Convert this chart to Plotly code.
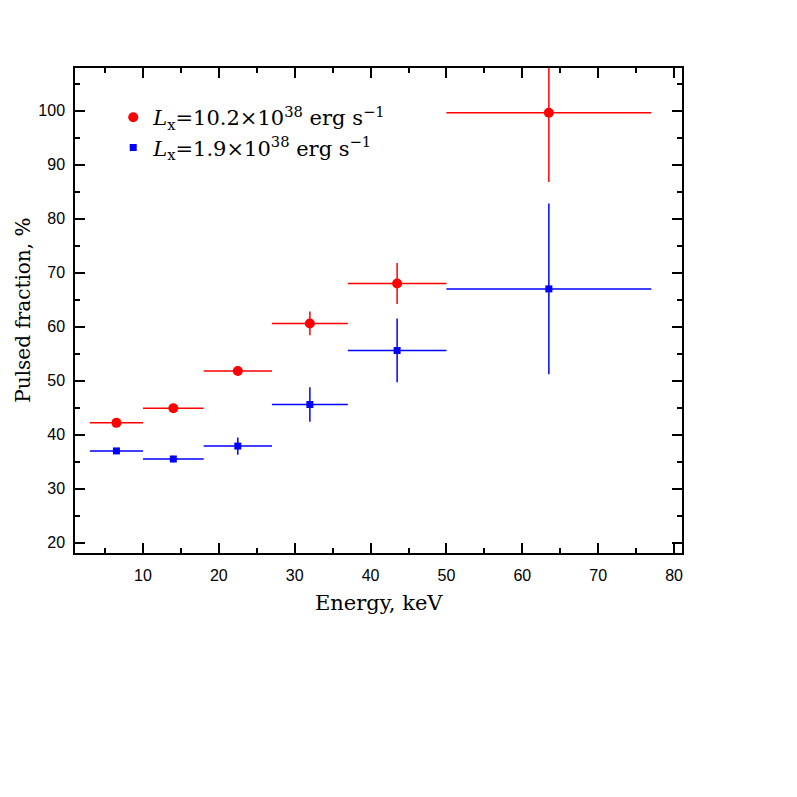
import plotly.graph_objects as go

# Energy bins (keV)
bin_lo = [3, 10, 18, 27, 37, 50]
bin_hi = [10, 18, 27, 37, 50, 77]
energy = [6.5, 14, 22.5, 32, 43.5, 63.5]

# Pulsed fraction, %
pf_high = [42.2, 44.9, 51.8, 60.6, 68.0, 99.6]
pf_high_err = [0.4, 0.5, 0.9, 2.2, 3.8, 12.8]
pf_low = [37.0, 35.5, 37.9, 45.6, 55.6, 67.0]
pf_low_err = [0.4, 0.6, 1.6, 3.2, 5.9, 15.8]

label_high = "<i>L</i><sub>x</sub>=10.2×10<sup>38</sup> erg s<sup>−1</sup>"
label_low = "<i>L</i><sub>x</sub>=1.9×10<sup>38</sup> erg s<sup>−1</sup>"
x_title = "Energy, keV"
y_title = "Pulsed fraction, %"

xerr_plus = [h - e for h, e in zip(bin_hi, energy)]
xerr_minus = [e - l for l, e in zip(bin_lo, energy)]

fig = go.Figure()
fig.add_trace(go.Scatter(
    x=energy, y=pf_high, mode="markers", name=label_high,
    marker=dict(symbol="circle", size=10, color="#ff0000"),
    error_x=dict(type="data", symmetric=False, array=xerr_plus, arrayminus=xerr_minus,
                 color="#ff0000", thickness=1.5, width=0),
    error_y=dict(type="data", array=pf_high_err, color="#ff0000", thickness=1.5, width=0),
))
fig.add_trace(go.Scatter(
    x=energy, y=pf_low, mode="markers", name=label_low,
    marker=dict(symbol="square", size=7, color="#0000ff"),
    error_x=dict(type="data", symmetric=False, array=xerr_plus, arrayminus=xerr_minus,
                 color="#0000ff", thickness=1.5, width=0),
    error_y=dict(type="data", array=pf_low_err, color="#0000ff", thickness=1.5, width=0),
))

axis_common = dict(
    ticks="inside", mirror="allticks", showline=True, linecolor="black", linewidth=1.5,
    tickcolor="black", tickwidth=1.5, ticklen=10, showgrid=False, zeroline=False,
    automargin=False,
    tickfont=dict(family="Liberation Sans, Arial, sans-serif", size=16, color="black"),
)

fig.update_layout(
    width=797, height=797,
    margin=dict(l=67, r=123, t=60, b=252),
    paper_bgcolor="white", plot_bgcolor="white",
    showlegend=True,
    legend=dict(x=0.063, y=0.94, xanchor="left", yanchor="top",
                bgcolor="rgba(0,0,0,0)",
                font=dict(family="DejaVu Serif, serif", size=21, color="black"),
                itemsizing="trace", tracegroupgap=4),
    xaxis=dict(range=[1.04, 81.05], tickmode="array", tickvals=[10, 20, 30, 40, 50, 60, 70, 80],
               minor=dict(ticks="inside", ticklen=5, tickcolor="black", tickwidth=1.5, dtick=5, tick0=0),
               ticklabelstandoff=7,
               **axis_common),
    yaxis=dict(range=[18.1, 107.9], tickmode="array", tickvals=[20, 30, 40, 50, 60, 70, 80, 90, 100],
               minor=dict(ticks="inside", ticklen=5, tickcolor="black", tickwidth=1.5, dtick=5, tick0=0),
               ticklabelstandoff=5,
               **axis_common),
    annotations=[
        dict(text=x_title, xref="paper", yref="paper", x=0.5, y=-0.103,
             xanchor="center", yanchor="middle", showarrow=False,
             font=dict(family="DejaVu Serif, serif", size=21, color="black")),
        dict(text=y_title, xref="paper", yref="paper", x=-0.087, y=0.5,
             xanchor="center", yanchor="middle", textangle=-90, showarrow=False,
             font=dict(family="DejaVu Serif, serif", size=20, color="black")),
    ],
)

fig.write_html("out.html")
